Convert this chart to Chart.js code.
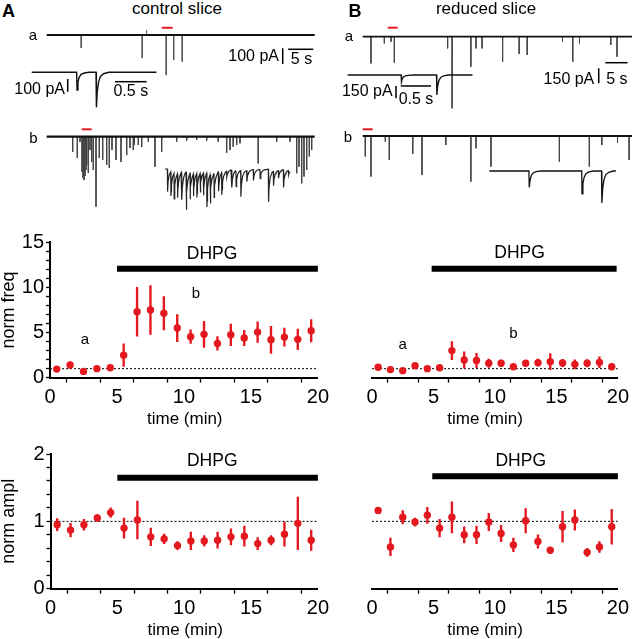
<!DOCTYPE html>
<html>
<head>
<meta charset="utf-8">
<script src="https://cdn.jsdelivr.net/npm/chart.js@4.4.1/dist/chart.umd.min.js"></script>
<style>
  body { margin: 0; background: #fff; }
  #fig { position: relative; width: 632px; height: 639px; overflow: hidden;
         font-family: "Liberation Sans", Arial, sans-serif; color: #000; }
  #fig canvas { position: absolute; }
  .lbl { position: absolute; white-space: nowrap; line-height: 1; }
</style>
</head>
<body>
<div id="fig"></div>
<script>
// ---- summary plots: 1 min bins ----
var timeBins = [0.5, 1.5, 2.5, 3.5, 4.5, 5.5, 6.5, 7.5, 8.5, 9.5,
                10.5, 11.5, 12.5, 13.5, 14.5, 15.5, 16.5, 17.5, 18.5, 19.5];

var freqCtrl    = [0.95, 1.4, 0.7, 1.0, 1.1, 2.5, 7.3, 7.5, 7.15, 5.5, 4.55, 4.8, 3.8, 4.75, 4.4, 5.05, 4.2, 4.5, 4.25, 5.2];
var freqCtrlErr = [0.1, 0.35, 0.1, 0.15, 0.15, 1.25, 2.7, 2.7, 1.85, 1.5, 0.75, 1.45, 0.75, 1.2, 0.85, 1.15, 1.5, 1.0, 1.15, 1.25];
var freqRed     = [1.15, 0.9, 0.78, 1.33, 1.0, 1.1, 3.0, 1.96, 1.9, 1.6, 1.6, 1.22, 1.6, 1.67, 1.78, 1.63, 1.48, 1.6, 1.7, 1.22];
var freqRedErr  = [0.1, 0.1, 0.1, 0.2, 0.1, 0.15, 1.0, 0.9, 0.8, 0.45, 0.35, 0.15, 0.3, 0.4, 0.9, 0.4, 0.5, 0.4, 0.6, 0.35];

var amplCtrl    = [0.95, 0.87, 0.95, 1.05, 1.13, 0.9, 1.02, 0.77, 0.74, 0.64, 0.71, 0.71, 0.72, 0.77, 0.78, 0.67, 0.72, 0.81, 0.97, 0.72];
var amplCtrlErr = [0.09, 0.1, 0.08, 0.05, 0.07, 0.15, 0.28, 0.13, 0.07, 0.06, 0.13, 0.08, 0.12, 0.12, 0.15, 0.09, 0.07, 0.18, 0.39, 0.15];
var amplRed     = [1.16, 0.62, 1.06, 0.99, 1.09, 0.9, 1.06, 0.8, 0.8, 0.99, 0.82, 0.65, 1.01, 0.7, 0.57, 0.92, 1.02, 0.54, 0.62, 0.92];
var amplRedErr  = [0.04, 0.13, 0.1, 0.06, 0.12, 0.13, 0.23, 0.12, 0.13, 0.13, 0.12, 0.1, 0.18, 0.1, 0.02, 0.23, 0.15, 0.06, 0.08, 0.26];

// DHPG application (min)
var dhpgCtrl = [5, 20];
var dhpgRed  = [4.85, 19.9];

// ---- example traces: event time (s) and peak current (pA) ----
var ctrlA_t = [6.9, 19.1, 20.0, 23.9, 25.4, 27.1];
var ctrlA_i = [-83, -147, 32, -255, -160, -170];
var ctrlAin_t = [0.71, 1.016];
var ctrlAin_i = [-139, -276];

var ctrlB_t = [5.2, 6.12, 6.66, 7.06, 7.26, 7.46, 7.66, 7.86, 8.0, 8.32, 8.66, 9.0, 9.32, 9.86, 10.52, 11.2, 12.0, 12.52,
               13.06, 13.86, 14.86, 16.0, 16.66, 17.32, 17.56, 18.32, 19.0, 20.32, 21.66, 23.0, 26.0, 28.0, 30.0, 32.0,
               34.3, 36.0, 36.66, 37.3, 38.0, 38.66, 42.3, 46.0, 48.66, 50.0, 50.46, 51.0, 51.46, 52.0, 52.52, 53.0];
var ctrlB_i = [-96, -136, -34, -225, -263, -276, -250, -212, -180, -231, -85, -161, -212, -446, -136, -148, -180, -199,
               -85, -148, -161, -117, -72, -85, -53, -53, -66, -32, -191, -96, -32, -25, -21, -25,
               -32, -102, -85, -64, -53, -42, -170, -32, -32, -233, -191, -297, -254, -212, -127, -85];
var ctrlBin_t = [0.037, 0.09, 0.142, 0.195, 0.263, 0.332, 0.395, 0.447, 0.5, 0.553, 0.605, 0.658, 0.711, 0.774,
                 0.843, 0.895, 0.974, 1.053, 1.12, 1.195, 1.29, 1.395, 1.5, 1.632, 1.711, 1.79, 1.869, 1.948];
var ctrlBin_i = [-178, -192, -205, -192, -218, -297, -205, -178, -192, -152, -178, -270, -231, -192,
                 -152, -178, -47, -139, -126, -205, -87, -87, -73, -257, -113, -61, -139, -34];

var redA_t = [1.86, 4.84, 6.34, 7.08, 19.0, 20.0, 24.2, 25.35, 26.7, 31.3, 35.0, 36.8, 44.7, 47.0, 48.5, 55.5, 56.9];
var redA_i = [-267, -67, -50, -260, -117, -716, -300, -117, -117, -250, -173, -183, -50, -250, -67, -83, -200];
var redAin_t = [0.89, 1.48];
var redAin_i = [-85, -244];

var redB_t = [0.58, 1.86, 5.06, 5.95, 11.2, 13.27, 18.6, 24.2, 25.35, 28.7, 44.0, 50.7, 53.5, 57.0, 59.6];
var redB_i = [-206, -406, -57, -240, -180, -390, -90, -456, -123, -306, -256, -306, -90, -67, -240];
var redBin_t = [0.66, 1.54, 1.87];
var redBin_i = [-199, -280, -390];

// time windows shown expanded (red bars), s
var winCtrlA = [23.0, 25.2], winCtrlB = [7.0, 9.0], winRedA = [5.6, 7.83], winRedB = [0.0, 2.24];

// event waveform: [s after onset, fraction of peak]
var slowShape = [[0, 0], [0.006, 1], [0.02, 0.55], [0.04, 0.28], [0.07, 0.12], [0.12, 0.04], [0.2, 0]];
var fastShape = [[0, 0], [0.004, 1], [0.012, 0.55], [0.03, 0.25], [0.06, 0.1], [0.12, 0.03], [0.2, 0]];

var RED = '#e3191f';
var FONT = '"Liberation Sans", Arial, sans-serif';
Chart.defaults.font.family = FONT;
Chart.defaults.font.weight = 'normal';
Chart.defaults.color = '#000';

var fig = document.getElementById('fig');

function addCanvas(left, top, w, h) {
  var c = document.createElement('canvas');
  c.width = w; c.height = h;
  c.style.left = left + 'px'; c.style.top = top + 'px';
  c.style.width = w + 'px'; c.style.height = h + 'px';
  fig.appendChild(c);
  return c;
}

function label(text, x, y, size, anchor, bold) {
  var d = document.createElement('div');
  d.className = 'lbl';
  d.textContent = text;
  d.style.left = x + 'px';
  d.style.top = y + 'px';
  d.style.fontSize = size + 'px';
  if (bold) d.style.fontWeight = 'bold';
  var tx = anchor == 'right' ? '-100%' : (anchor == 'left' ? '0' : '-50%');
  d.style.transform = 'translate(' + tx + ',-50%)';
  fig.appendChild(d);
}

/*
 * vertical spikes on a flat baseline, separated by gaps
 */
function spikePoints(times, amps) {
  var pts = [];
  for (var i = 0; i < times.length; i++) {
    pts.push({x: times[i], y: 0}, {x: times[i], y: amps[i]}, {x: times[i], y: null});
  }
  return pts;
}

function shapeAt(shape, dt) {
  if (dt <= 0 || dt >= shape[shape.length - 1][0]) return 0;
  for (var k = 1; k < shape.length; k++) {
    if (dt <= shape[k][0]) {
      var a = shape[k - 1], b = shape[k];
      return a[1] + (b[1] - a[1]) * (dt - a[0]) / (b[0] - a[0]);
    }
  }
  return 0;
}

/*
 * expanded trace: sum of events with the inset waveform
 */
function wavePoints(times, amps, shape, dur) {
  var ts = [0, dur];
  times.forEach(function (t0) {
    shape.forEach(function (p) { ts.push(t0 + p[0]); });
  });
  ts = ts.filter(function (t) { return t >= 0 && t <= dur; }).sort(function (a, b) { return a - b; });
  return ts.map(function (t) {
    var v = 0;
    for (var i = 0; i < times.length; i++) v += amps[i] * shapeAt(shape, t - times[i]);
    return {x: t, y: v};
  });
}

function lineSet(data, color, width) {
  return {data: data, borderColor: color, borderWidth: width, pointRadius: 0,
          spanGaps: false, clip: false, borderCapStyle: 'butt'};
}

/*
 * one trace panel; g holds the canvas box and the px/s, px/pA mapping
 */
function traceChart(g, datasets) {
  var c = addCanvas(g.left, g.top, g.width, g.height);
  new Chart(c, {
    type: 'line',
    data: {datasets: datasets},
    options: {
      responsive: false, animation: false, events: [],
      layout: {padding: 0},
      plugins: {legend: {display: false}, tooltip: {enabled: false}},
      scales: {
        x: {type: 'linear', display: false,
            min: (g.left - g.t0) / g.pps, max: (g.left + g.width - g.t0) / g.pps},
        y: {type: 'linear', display: false,
            min: -(g.top + g.height - g.base) / g.ppa, max: (g.base - g.top) / g.ppa}
      }
    }
  });
}

function scaleBar(vx, vy, vLen, hx, hy, hLen) {
  return [lineSet([{x: vx, y: vy}, {x: vx, y: vy - vLen}], '#000', 1.5),
          lineSet([{x: hx, y: hy}, {x: hx + hLen, y: hy}], '#000', 1.5)];
}

// ---- traces, panel A ----
traceChart({left: 46, top: 18, width: 274, height: 64, t0: 46.7, base: 35, pps: 5, ppa: 0.157}, [
  lineSet([{x: 0, y: 0}, {x: 53.6, y: 0}], '#111', 2.2),
  lineSet(spikePoints(ctrlA_t, ctrlA_i), '#555', 1),
  lineSet([{x: winCtrlA[0], y: 46}, {x: winCtrlA[1], y: 46}], RED, 2)
].concat(scaleBar(47.2, -85, 100, 48.3, -91, 5)));

traceChart({left: 29, top: 60, width: 132, height: 55, t0: 31.7, base: 72.3, pps: 63.3, ppa: 0.127}, [
  lineSet(wavePoints(ctrlAin_t, ctrlAin_i, slowShape, 1.97), '#111', 1.4)
].concat(scaleBar(0.569, -53, 100, 1.316, -74, 0.5)));

traceChart({left: 46, top: 120, width: 274, height: 100, t0: 46.7, base: 136.7, pps: 5, ppa: 0.157}, [
  lineSet([{x: 0, y: 0}, {x: 53.6, y: 0}], '#111', 2.2),
  lineSet(spikePoints(ctrlB_t, ctrlB_i), '#444', 1),
  lineSet([{x: winCtrlB[0], y: 47}, {x: winCtrlB[1], y: 47}], RED, 2)
]);

traceChart({left: 162, top: 150, width: 135, height: 65, t0: 165, base: 169, pps: 63.3, ppa: 0.127}, [
  lineSet(wavePoints(ctrlBin_t, ctrlBin_i, fastShape, 1.97), '#222', 1.2)
]);

// ---- traces, panel B ----
traceChart({left: 360, top: 18, width: 272, height: 102, t0: 362.7, base: 36.7, pps: 4.47, ppa: 0.1}, [
  lineSet([{x: 0, y: 0}, {x: 60.3, y: 0}], '#111', 1.8),
  lineSet(spikePoints(redA_t, redA_i), '#444', 1),
  lineSet([{x: winRedA[0], y: 90}, {x: winRedA[1], y: 90}], RED, 2)
].concat(scaleBar(52.8, -316, 150, 54.27, -260, 5)));

traceChart({left: 345, top: 62, width: 135, height: 50, t0: 347.7, base: 75, pps: 60, ppa: 0.082}, [
  lineSet(wavePoints(redAin_t, redAin_i, slowShape, 2.08), '#111', 1.3)
].concat(scaleBar(0.805, -134, 150, 0.888, -134, 0.5)));

traceChart({left: 360, top: 120, width: 272, height: 100, t0: 362.7, base: 136, pps: 4.47, ppa: 0.1}, [
  lineSet([{x: 0, y: 0}, {x: 60.3, y: 0}], '#111', 1.8),
  lineSet(spikePoints(redB_t, redB_i), '#444', 1),
  lineSet([{x: winRedB[0], y: 67}, {x: winRedB[1], y: 67}], RED, 2)
]);

traceChart({left: 487, top: 158, width: 135, height: 55, t0: 489.3, base: 171, pps: 60, ppa: 0.082}, [
  lineSet(wavePoints(redBin_t, redBin_i, slowShape, 2.11), '#111', 1.3)
]);

/*
 * summary plot: points with SEM bars, DHPG bar and dotted baseline
 */
function makePlot(o) {
  var b = o.box, a = o.area;
  var padL = a.l - b.left, padT = a.t - b.top, padR = b.left + b.width - a.r;
  var xH = b.top + b.height - a.b;
  var c = addCanvas(b.left, b.top, b.width, b.height);
  var notes = {
    id: 'notes',
    afterDatasetsDraw: function (chart) {
      var ctx = chart.ctx, sx = chart.scales.x, sy = chart.scales.y;
      ctx.save();
      ctx.fillStyle = '#000';
      ctx.textAlign = 'center';
      ctx.textBaseline = 'middle';
      o.notes.forEach(function (n) {
        ctx.font = n.size + 'px ' + FONT;
        ctx.fillText(n.text, sx.getPixelForValue(n.x), sy.getPixelForValue(n.y));
      });
      ctx.restore();
    }
  };
  var axisGrid = function (len) {
    return {display: true, drawOnChartArea: false, drawTicks: true, tickLength: len,
            tickColor: '#000', tickWidth: 1.3};
  };
  new Chart(c, {
    type: 'scatter',
    data: {datasets: [
      {type: 'scatter', data: timeBins.map(function (t, i) { return {x: t, y: o.vals[i]}; }),
       pointRadius: 3.7, pointBackgroundColor: RED, pointBorderWidth: 0, order: 0},
      {type: 'bar', data: timeBins.map(function (t, i) { return {x: t, y: [o.vals[i] - o.errs[i], o.vals[i] + o.errs[i]]}; }),
       backgroundColor: RED, barThickness: 1.7, order: 1},
      {type: 'line', data: [{x: o.dhpg[0], y: o.barY}, {x: o.dhpg[1], y: o.barY}],
       borderColor: '#000', borderWidth: 6, pointRadius: 0, borderCapStyle: 'butt', clip: false, order: 2},
      {type: 'line', data: [{x: 0, y: 1}, {x: 20, y: 1}],
       borderColor: '#000', borderWidth: 1, borderDash: [2, 2], pointRadius: 0, order: 3}
    ]},
    options: {
      responsive: false, animation: false, events: [],
      layout: {padding: {left: o.showY ? 0 : padL, top: padT, right: padR, bottom: 0}},
      plugins: {legend: {display: false}, tooltip: {enabled: false}},
      scales: {
        x: {type: 'linear', min: 0, max: 20, offset: false,
            grid: axisGrid(5), border: {display: true, color: '#000', width: 2},
            ticks: {stepSize: 2.5, autoSkip: false, maxRotation: 0, padding: 3, color: '#000',
                    font: {size: 20, weight: 'normal'},
                    callback: function (v) { return v % 5 === 0 ? v : ''; }},
            afterFit: function (s) { s.height = xH; }},
        y: {type: 'linear', display: o.showY, min: 0, max: o.yMax,
            grid: axisGrid(4), border: {display: true, color: '#000', width: 2},
            ticks: {stepSize: o.yStep, autoSkip: false, padding: 2, color: '#000',
                    font: {size: 20, weight: 'normal'},
                    callback: function (v) { return Math.abs(v / o.yMajor - Math.round(v / o.yMajor)) < 1e-6 ? v : ''; }},
            title: {display: true, text: o.yTitle, color: '#000',
                    font: {size: 18, weight: 'normal', lineHeight: 1}, padding: 0},
            afterFit: function (s) { s.width = padL; }}
      }
    },
    plugins: [notes]
  });
  label('time (min)', (a.l + a.r) / 2, a.b + 40, 17, 'center');
}

makePlot({box: {left: 0, top: 224, width: 332, height: 204}, area: {l: 50, t: 242.3, r: 319.5, b: 377.7},
  showY: true, yMax: 15, yStep: 1, yMajor: 5, yTitle: 'norm freq',
  vals: freqCtrl, errs: freqCtrlErr, dhpg: dhpgCtrl, barY: 12.07,
  notes: [{text: 'DHPG', x: 12.1, y: 13.7, size: 17.5}, {text: 'a', x: 2.6, y: 4.2, size: 15}, {text: 'b', x: 10.9, y: 9.3, size: 15}]});

makePlot({box: {left: 330, top: 224, width: 302, height: 204}, area: {l: 351, t: 242.3, r: 619.3, b: 377.7},
  showY: false, yMax: 15, yStep: 1, yMajor: 5, yTitle: '',
  vals: freqRed, errs: freqRedErr, dhpg: dhpgRed, barY: 12.07,
  notes: [{text: 'DHPG', x: 12.0, y: 13.8, size: 17.5}, {text: 'a', x: 2.5, y: 3.6, size: 15}, {text: 'b', x: 11.5, y: 4.9, size: 15}]});

makePlot({box: {left: 0, top: 436, width: 332, height: 203}, area: {l: 50.5, t: 454, r: 320, b: 588.7},
  showY: true, yMax: 2, yStep: 0.2, yMajor: 1, yTitle: 'norm ampl',
  vals: amplCtrl, errs: amplCtrlErr, dhpg: dhpgCtrl, barY: 1.647,
  notes: [{text: 'DHPG', x: 12.1, y: 1.9, size: 17.5}]});

makePlot({box: {left: 330, top: 436, width: 302, height: 203}, area: {l: 351, t: 454, r: 619.3, b: 588.7},
  showY: false, yMax: 2, yStep: 0.2, yMajor: 1, yTitle: '',
  vals: amplRed, errs: amplRedErr, dhpg: [4.9, 20], barY: 1.67,
  notes: [{text: 'DHPG', x: 12.1, y: 1.9, size: 17.5}]});

// ---- panel letters, titles, trace labels and scale-bar text ----
label('A', 8.5, 10.8, 18, 'center', true);
label('control slice', 177, 7.5, 17, 'center');
label('B', 355, 10.8, 18, 'center', true);
label('reduced slice', 486, 7.5, 17, 'center');
label('a', 33, 34.2, 15, 'center');
label('b', 33.5, 136.5, 15, 'center');
label('a', 349, 35.4, 15, 'center');
label('b', 348, 136, 15, 'center');
label('100 pA', 279, 56.3, 16, 'right');
label('5 s', 301.5, 58.7, 16, 'center');
label('100 pA', 65, 89, 16, 'right');
label('0.5 s', 130.8, 90.8, 16, 'center');
label('150 pA', 594.3, 78.5, 16, 'right');
label('5 s', 616.8, 78.5, 16, 'center');
label('150 pA', 392.7, 91.2, 16, 'right');
label('0.5 s', 416, 99.2, 16, 'center');
</script>
</body>
</html>
